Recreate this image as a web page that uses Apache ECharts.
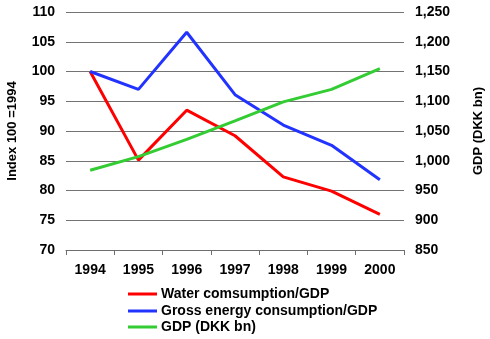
<!DOCTYPE html>
<html>
<head>
<meta charset="utf-8">
<script src="https://cdn.jsdelivr.net/npm/echarts@6/dist/echarts.min.js"></script>
<style>html,body{margin:0;padding:0;background:#fff;}#c{width:490px;height:339px;}</style>
</head>
<body>
<div id="c"></div>
<script>
var years = ['1994','1995','1996','1997','1998','1999','2000'];
var waterPerGdp = [100, 85.1, 93.5, 89.2, 82.3, 79.9, 76.0];
var energyPerGdp = [100, 97.0, 106.6, 96.1, 91.0, 87.6, 81.8];
var gdp = [984, 1007, 1036, 1067, 1099, 1120, 1155];
var seriesNames = ['Water comsumption/GDP', 'Gross energy consumption/GDP', 'GDP (DKK bn)'];

var font = 'Liberation Sans, Arial, sans-serif';
var legendTops = [286, 303, 319];
function makeLegend(i) {
  return {
    orient: 'vertical', left: 128, top: legendTops[i], padding: 0,
    itemWidth: 29, itemHeight: 3, itemGap: 0,
    icon: 'rect',
    data: [seriesNames[i]],
    textStyle: {fontFamily: font, fontSize: 14, fontWeight: 'bold', color: '#000', lineHeight: 16, padding: [0,0,0,-1]}
  };
}
var chart = echarts.init(document.getElementById('c'), null, {renderer: 'canvas'});
chart.setOption({
  animation: false,
  backgroundColor: '#ffffff',
  grid: {left: 66, right: 86, top: 12, bottom: 89, containLabel: false, outerBoundsMode: 'none'},
  legend: [makeLegend(0), makeLegend(1), makeLegend(2)],
  xAxis: {
    type: 'category', data: years, boundaryGap: true,
    axisLine: {lineStyle: {color: '#6e6e6e', width: 1}},
    axisTick: {show: true, alignWithLabel: false, length: 5, inside: false, lineStyle: {color: '#6e6e6e'}},
    axisLabel: {fontFamily: font, fontSize: 14, fontWeight: 'bold', color: '#000', margin: 13},
    splitLine: {show: false}
  },
  yAxis: [
    {
      type: 'value', min: 70, max: 110, interval: 5,
      name: 'Index 100 =1994', nameLocation: 'middle', nameGap: 47, nameRotate: 90,
      nameTextStyle: {fontFamily: font, fontSize: 13, fontWeight: 'bold', color: '#000'},
      axisLine: {show: false}, axisTick: {show: false},
      axisLabel: {fontFamily: font, fontSize: 14, fontWeight: 'bold', color: '#000', margin: 11},
      splitLine: {show: true, lineStyle: {color: '#737373', width: 1.2}}
    },
    {
      type: 'value', min: 850, max: 1250, interval: 50, position: 'right',
      name: 'GDP (DKK bn)', nameLocation: 'middle', nameGap: 68, nameRotate: 90,
      nameTextStyle: {fontFamily: font, fontSize: 13, fontWeight: 'bold', color: '#000'},
      axisLine: {show: false}, axisTick: {show: false},
      axisLabel: {fontFamily: font, fontSize: 14, fontWeight: 'bold', color: '#000', margin: 11,
        formatter: function (v) { return v.toLocaleString('en-US'); }},
      splitLine: {show: false}
    }
  ],
  series: [
    {name: seriesNames[0], type: 'line', data: waterPerGdp, yAxisIndex: 0, symbol: 'none',
     lineStyle: {color: '#ff0000', width: 3}, itemStyle: {color: '#ff0000'}},
    {name: seriesNames[1], type: 'line', data: energyPerGdp, yAxisIndex: 0, symbol: 'none',
     lineStyle: {color: '#2233ff', width: 3}, itemStyle: {color: '#2233ff'}},
    {name: seriesNames[2], type: 'line', data: gdp, yAxisIndex: 1, symbol: 'none',
     lineStyle: {color: '#33cc33', width: 3}, itemStyle: {color: '#33cc33'}}
  ]
});
</script>
</body>
</html>
